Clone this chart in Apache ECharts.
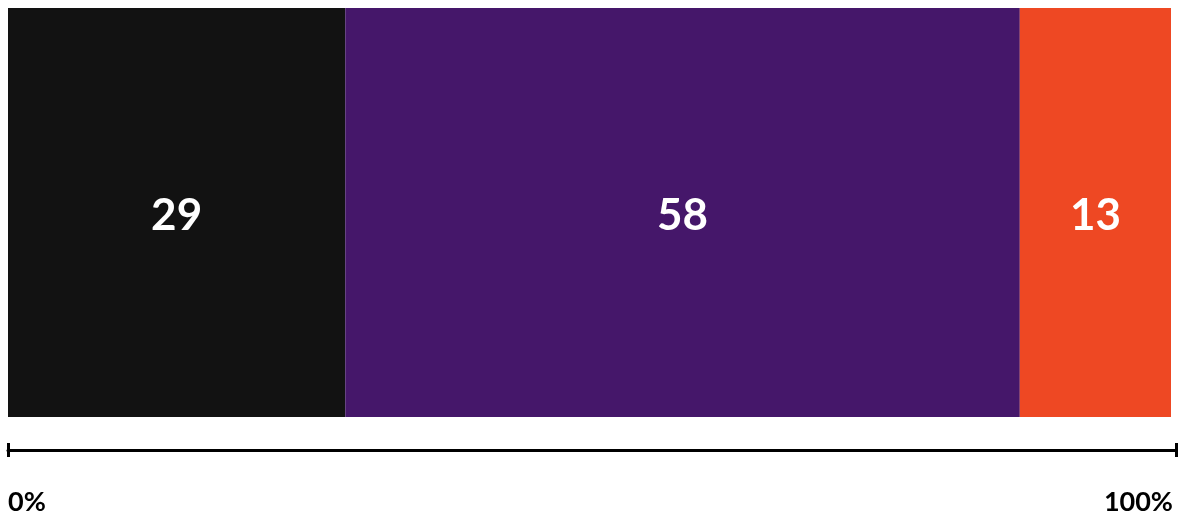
<!DOCTYPE html>
<html>
<head>
<meta charset="utf-8">
<script src="https://cdn.jsdelivr.net/npm/echarts@6/dist/echarts.min.js"></script>
<style>
  html, body { margin: 0; padding: 0; background: #fff; }
  #chart { width: 1183px; height: 513px; }
</style>
</head>
<body>
<div id="chart"></div>
<script>
  // one stacked bar, shares in percent
  var categories = ['total'];
  var segNames = ['a', 'b', 'c'];
  var segValues = [29, 58, 13];
  var segColors = ['#121212', '#45176a', '#ee4823'];
  var tickLabels = ['0%', '100%'];

  var chart = echarts.init(document.getElementById('chart'));

  var series = segValues.map(function (v, i) {
    return {
      name: segNames[i],
      type: 'bar',
      stack: 'all',
      xAxisIndex: 0,
      yAxisIndex: 0,
      barWidth: '100%',
      data: [v],
      itemStyle: { color: segColors[i] },
      label: {
        show: true,
        position: 'inside',
        offset: [0, 3],
        color: '#fff',
        fontFamily: 'Lato',
        fontWeight: 'bold',
        fontSize: 44
      }
    };
  });

  var option = {
    animation: false,
    grid: [
      { left: 8, right: 12, top: 8, height: 409 },
      { left: 8, right: 7, top: 450, height: 0 }  // axis scale line below
    ],
    xAxis: [
      { type: 'value', gridIndex: 0, min: 0, max: 100, show: false },
      {
        type: 'value', gridIndex: 1, min: 0, max: 100, interval: 100,
        position: 'bottom',
        axisLine: { show: true, lineStyle: { color: '#000', width: 3 } },
        axisTick: { show: true, length: 7, lineStyle: { color: '#000', width: 3 } },
        splitLine: { show: false },
        axisLabel: {
          show: true,
          margin: 39,
          fontFamily: 'Lato',
          fontWeight: 'bold',
          fontSize: 27,
          color: '#000',
          padding: [0, 3, 0, 0],
          alignMinLabel: 'left',
          alignMaxLabel: 'right',
          formatter: function (v) { return v === 0 ? tickLabels[0] : tickLabels[1]; }
        }
      },
      {
        type: 'value', gridIndex: 1, min: 0, max: 100, interval: 100,
        position: 'top',
        axisLine: { show: false },
        axisTick: { show: true, length: 7, lineStyle: { color: '#000', width: 3 } },
        splitLine: { show: false },
        axisLabel: { show: false }
      }
    ],
    yAxis: [
      { type: 'category', gridIndex: 0, data: categories, show: false },
      { type: 'category', gridIndex: 1, data: [''], show: false }
    ],
    series: series
  };

  chart.setOption(option);
</script>
</body>
</html>
